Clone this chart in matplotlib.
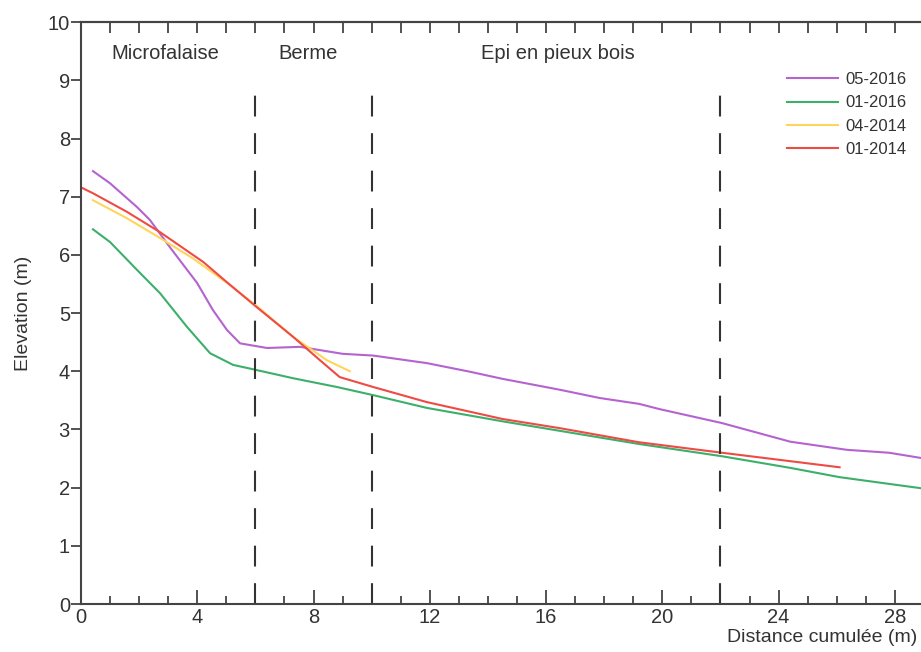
import matplotlib.pyplot as plt
import numpy as np

plt.rcParams['font.family'] = ['Liberation Sans', 'DejaVu Sans']

# profils (distance cumulée m, élévation m)
x_0516 = [0.41, 1.0, 1.93, 2.37, 3.06, 3.99, 4.54, 5.02, 5.47, 6.4, 7.53, 9.0, 10.05, 11.9, 13.4, 14.5, 16.5, 17.85, 19.2, 19.9, 22.05, 24.4, 26.35, 27.8, 28.9]
y_0516 = [7.44, 7.23, 6.82, 6.6, 6.13, 5.52, 5.05, 4.71, 4.48, 4.40, 4.42, 4.30, 4.27, 4.14, 3.99, 3.87, 3.68, 3.54, 3.44, 3.35, 3.11, 2.79, 2.65, 2.60, 2.51]

x_0116 = [0.41, 1.0, 1.93, 2.72, 3.65, 4.44, 5.23, 6.05, 7.3, 8.8, 10.05, 11.9, 14.5, 19.2, 22.05, 24.4, 26.1, 28.9]
y_0116 = [6.44, 6.22, 5.74, 5.34, 4.76, 4.31, 4.11, 4.02, 3.88, 3.73, 3.59, 3.37, 3.14, 2.75, 2.54, 2.34, 2.18, 1.99]

x_0414 = [0.41, 1.58, 2.72, 3.85, 5.02, 6.05, 7.3, 8.46, 9.25]
y_0414 = [6.94, 6.63, 6.29, 5.94, 5.52, 5.12, 4.59, 4.19, 4.0]

x_0114 = [0.0, 0.41, 1.58, 2.72, 4.2, 5.02, 6.05, 7.3, 8.22, 8.9, 10.05, 11.9, 14.5, 16.5, 19.2, 22.05, 26.1]
y_0114 = [7.16, 7.06, 6.74, 6.39, 5.88, 5.53, 5.10, 4.59, 4.19, 3.9, 3.73, 3.47, 3.18, 3.02, 2.78, 2.60, 2.35]

limites = [6, 10, 22]
zones = ['Microfalaise', 'Berme', 'Epi en pieux bois']
zones_x = [2.9, 7.8, 16.4]

fig = plt.figure(figsize=(9.21, 6.52), dpi=100)
ax = fig.add_axes([0.088, 0.0736, 0.912, 0.8924])

ax.plot(x_0516, y_0516, color='#b463cf', lw=1.5, label='05-2016')
ax.plot(x_0116, y_0116, color='#3cb06a', lw=1.5, label='01-2016')
ax.plot(x_0414, y_0414, color='#ffd45c', lw=1.5, label='04-2014')
ax.plot(x_0114, y_0114, color='#ee4b45', lw=1.5, label='01-2014')

for xl in limites:
    ax.plot([xl, xl], [0, 8.95], color='#333333', lw=1.5, linestyle=(0, (10, 8)))

for t, xt in zip(zones, zones_x):
    ax.text(xt, 9.47, t, ha='center', va='center', fontsize=14.5, color='#333333')

ax.set_xlim(0, 28.9)
ax.set_ylim(0, 10)
ax.set_xticks(np.arange(0, 29, 4))
ax.set_xticks(np.arange(0, 29, 1), minor=True)
ax.set_yticks(np.arange(0, 11, 1))

for s in ['left', 'bottom', 'top']:
    ax.spines[s].set_color('#444444')
    ax.spines[s].set_linewidth(1.5)
ax.spines['right'].set_visible(False)

ax.tick_params(axis='x', which='major', direction='in', length=10, width=1.3,
               colors='#444444', labelsize=14.5, labelcolor='#333333', pad=3)
ax.tick_params(axis='x', which='minor', direction='in', length=6, width=1.3, colors='#444444')
ax.tick_params(axis='y', direction='out', length=7, width=1.3, colors='#444444',
               labelsize=14.5, labelcolor='#333333', pad=1)

top = ax.secondary_xaxis('top')
top.set_xticks(np.arange(0, 29, 1))
top.tick_params(direction='in', length=8, width=1.3, colors='#444444', labeltop=False)
top.spines['top'].set_color('#444444')
top.spines['top'].set_linewidth(1.5)

ax.set_ylabel('Elevation (m)', fontsize=14, color='#333333', labelpad=11)
ax.set_xlabel('Distance cumulée (m)', fontsize=14, color='#333333', ha='right', va='center')
ax.xaxis.set_label_coords(0.996, -0.057)

leg = ax.legend(loc='upper right', bbox_to_anchor=(1.0, 0.94), frameon=False,
                fontsize=12, handlelength=3.1, handletextpad=0.4, labelspacing=0.5)
for txt in leg.get_texts():
    txt.set_color('#333333')

fig.savefig('out.png', dpi=100)
